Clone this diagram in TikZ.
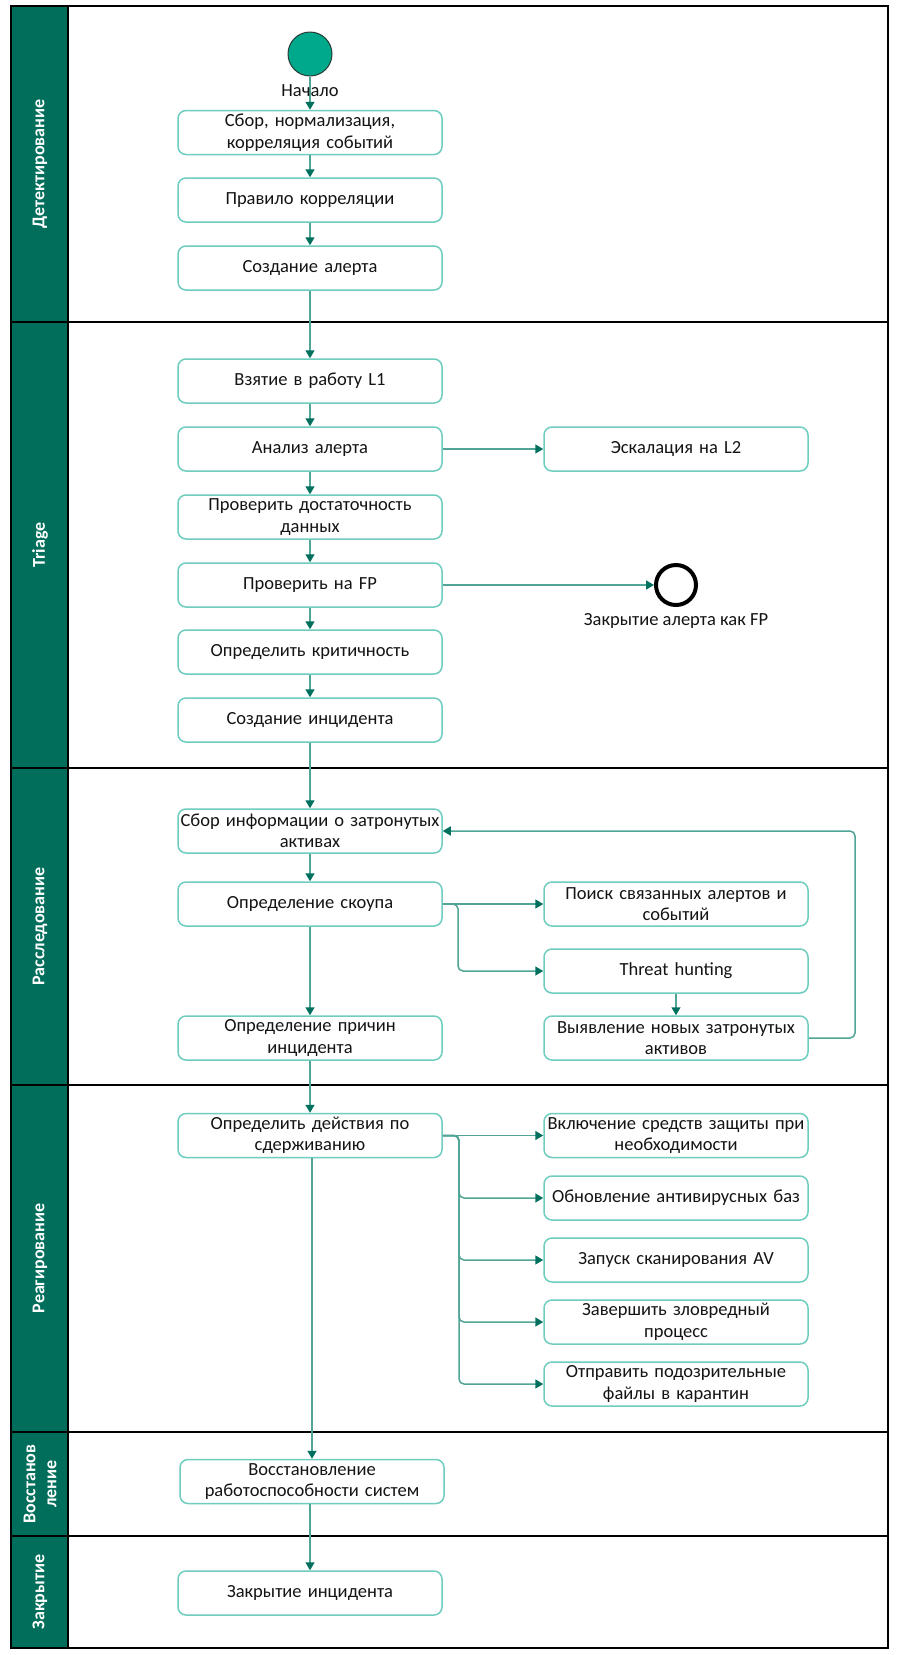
\documentclass[tikz,border=0pt]{standalone}
\usepackage{fontspec}
\setmainfont{Carlito}
\usetikzlibrary{arrows.meta}
\definecolor{hdr}{RGB}{0,110,90}
\definecolor{boxc}{RGB}{110,205,190}
\definecolor{linec}{RGB}{80,165,150}
\definecolor{headc}{RGB}{0,112,94}
\definecolor{startc}{RGB}{0,168,140}
\definecolor{txt}{RGB}{20,20,20}
\tikzset{
  box/.style={draw=boxc, line width=1.5pt, rounded corners=8pt, fill=white,
    text width=262pt, inner sep=1pt, minimum height=44pt, align=center,
    text=txt, font=\fontsize{18.5}{21.5}\selectfont},
  conn/.style={draw=linec, line width=1.5pt,
    -{Triangle[length=8pt,width=9pt,color=headc]}},
  lane/.style={text=white, rotate=90, align=center,
    font=\fontsize{18}{21}\selectfont\bfseries},
  lbl/.style={text=txt, font=\fontsize{18.5}{21.5}\selectfont},
  sep/.style={draw=black, line width=1.5pt}
}
\begin{document}
\begin{tikzpicture}[x=1pt,y=-1pt]
\useasboundingbox (0,0) rectangle (899,1655);
\fill[white] (0,0) rectangle (899,1655);
% lanes
\fill[hdr] (11,6) rectangle (68,1648);
\draw[sep] (11,6) rectangle (888,1648);
\draw[sep] (68,6) -- (68,1648);
\foreach \yy in {322,768,1085,1432,1536} \draw[sep] (11,\yy) -- (888,\yy);
\node[lane] (L1) at (40,164) {Детектирование};
\node[lane] (L2) at (40,545) {Triage};
\node[lane] (L3) at (40,926.5) {Расследование};
\node[lane] (L4) at (40,1258.5) {Реагирование};
\node[lane] (L5) at (40,1484) {Восстанов\\ление};
\node[lane] (L6) at (40,1592) {Закрытие};
% detect
\node[circle, draw={rgb,255:red,40;green,60;blue,55}, line width=1pt, fill=startc, minimum size=44pt, inner sep=0pt] (start) at (310,54) {};
\node[box] (b1) at (310,132.5) {Сбор, нормализация,\\корреляция событий};
\node[box] (b2) at (310,200) {Правило корреляции};
\node[box] (b3) at (310,268) {Создание алерта};
% triage
\node[box] (t1) at (310,381) {Взятие в работу L1};
\node[box] (t2) at (310,449) {Анализ алерта};
\node[box] (t3) at (310,517) {Проверить достаточность\\данных};
\node[box] (t4) at (310,585) {Проверить на FP};
\node[box] (t5) at (310,652) {Определить критичность};
\node[box] (t6) at (310,720) {Создание инцидента};
\node[box] (esc) at (676,449) {Эскалация на L2};
\node[circle, draw=black, line width=4pt, minimum size=40pt, inner sep=0pt] (endfp) at (676,585) {};
% investigation
\node[box] (r1) at (310,831) {Сбор информации о затронутых\\активах};
\node[box] (r2) at (310,904) {Определение скоупа};
\node[box] (r4) at (310,1038) {Определение причин\\инцидента};
\node[box] (p1) at (676,904) {Поиск связанных алертов и\\событий};
\node[box] (th) at (676,971) {Threat hunting};
\node[box] (vy) at (676,1038) {Выявление новых затронутых\\активов};
% response
\node[box] (a1) at (310,1135.5) {Определить действия по\\сдерживанию};
\node[box] (rb1) at (676,1135.5) {Включение средств защиты при\\необходимости};
\node[box] (rb2) at (676,1198) {Обновление антивирусных баз};
\node[box] (rb3) at (676,1260) {Запуск сканирования AV};
\node[box] (rb4) at (676,1322) {Завершить зловредный\\процесс};
\node[box] (rb5) at (676,1384) {Отправить подозрительные\\файлы в карантин};
% recovery, closing
\node[box] (v1) at (312,1481.5) {Восстановление\\работоспособности систем};
\node[box] (z1) at (310,1593) {Закрытие инцидента};
% connectors
\draw[conn] (start) -- (b1);
\node[lbl] (startlbl) at (310,91) {Начало};
\node[lbl] (fplbl) at (676,621) {Закрытие алерта как FP};
\draw[conn] (b1) -- (b2);
\draw[conn] (b2) -- (b3);
\draw[conn] (b3) -- (t1);
\draw[conn] (t1) -- (t2);
\draw[conn] (t2) -- (t3);
\draw[conn] (t3) -- (t4);
\draw[conn] (t4) -- (t5);
\draw[conn] (t5) -- (t6);
\draw[conn] (t6) -- (r1);
\draw[conn] (t2) -- (esc);
\draw[conn] (t4) -- (endfp);
\draw[conn] (r1) -- (r2);
\draw[conn] (r2) -- (r4);
\draw[conn] (r2) -- (p1);
\coordinate (br1) at (458,904);
\draw[conn, rounded corners=5pt] (r2.east) -- (br1) |- (th.west);
\draw[conn] (th) -- (vy);
\coordinate (lp) at (855,1038);
\draw[conn, rounded corners=5pt] (vy.east) -- (lp) |- (r1.east);
\draw[conn] (r4) -- (a1);
\draw[conn] (a1) -- (rb1);
\coordinate (br2) at (459,1135.5);
\foreach \n in {rb2,rb3,rb4,rb5}
  \draw[conn, rounded corners=5pt] (a1.east) -- (br2) |- (\n.west);
\draw[conn] (a1.south -| v1.north) -- (v1.north);
\draw[conn] (v1.south -| z1.north) -- (z1.north);
\end{tikzpicture}
\end{document}
